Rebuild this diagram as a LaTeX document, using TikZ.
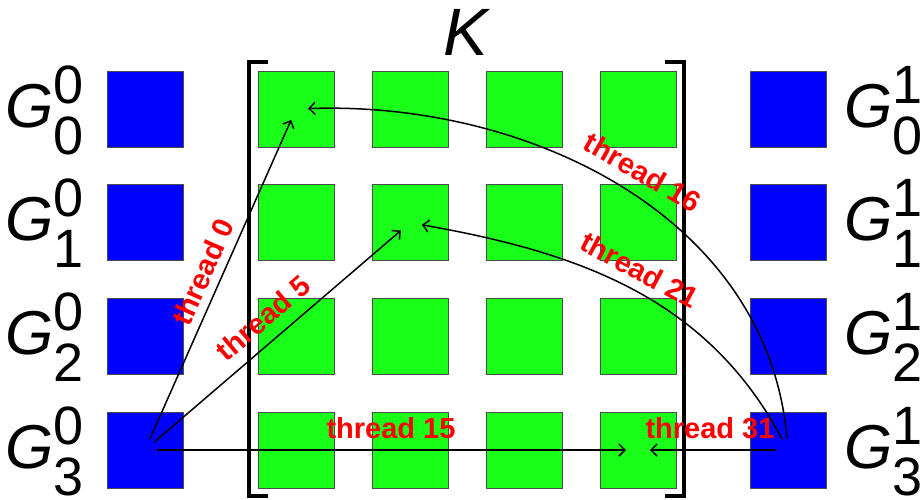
\documentclass[tikz,border=0pt]{standalone}
\usepackage{fontspec}
\setmainfont{Liberation Sans}
\usetikzlibrary{arrows.meta}

\definecolor{sqblue}{RGB}{0,0,255}
\definecolor{sqgreen}{RGB}{25,255,25}

\tikzset{
  bluebox/.style={shape=rectangle,draw=black!70,fill=sqblue,line width=0.8pt,minimum size=76pt,inner sep=0pt},
  greenbox/.style={shape=rectangle,draw=black!70,fill=sqgreen,line width=0.8pt,minimum size=76pt,inner sep=0pt},
  bracket/.style={draw=black,line width=4pt},
  thread/.style={-{Straight Barb[length=6pt,width=12pt]},draw=black,line width=1.5pt,shorten >=12pt,shorten <=12pt},
  threadlabel/.style={text=red,font=\fontsize{29}{29}\selectfont\bfseries,inner sep=0pt},
  glabel/.style={inner sep=0pt,anchor=base west}
}

% G with a superscript and a subscript stacked on its right
\newcommand{\gsym}[2]{{\fontsize{62}{62}\selectfont\itshape G}{\fontsize{54}{54}\selectfont\rlap{\raisebox{24pt}{#1}}\raisebox{-27pt}{#2}}}

\begin{document}
\begin{tikzpicture}[x=1pt,y=1pt]
\useasboundingbox (0,0) rectangle (924,-499);

\node[bluebox] (l0) at (145,-109) {};
\node[bluebox] (l1) at (145,-222.7) {};
\node[bluebox] (l2) at (145,-336.3) {};
\node[bluebox] (l3) at (145,-450) {};

\node[bluebox] (r0) at (788,-109) {};
\node[bluebox] (r1) at (788,-222.7) {};
\node[bluebox] (r2) at (788,-336.3) {};
\node[bluebox] (r3) at (788,-450) {};

\node[greenbox] (g00) at (296,-109) {};
\node[greenbox] (g01) at (410,-109) {};
\node[greenbox] (g02) at (524,-109) {};
\node[greenbox] (g03) at (638,-109) {};
\node[greenbox] (g10) at (296,-222.7) {};
\node[greenbox] (g11) at (410,-222.7) {};
\node[greenbox] (g12) at (524,-222.7) {};
\node[greenbox] (g13) at (638,-222.7) {};
\node[greenbox] (g20) at (296,-336.3) {};
\node[greenbox] (g21) at (410,-336.3) {};
\node[greenbox] (g22) at (524,-336.3) {};
\node[greenbox] (g23) at (638,-336.3) {};
\node[greenbox] (g30) at (296,-450) {};
\node[greenbox] (g31) at (410,-450) {};
\node[greenbox] (g32) at (524,-450) {};
\node[greenbox] (g33) at (638,-450) {};

% the matrix brackets
\draw[bracket] (268,-62) -- (249,-62) -- (249,-496) -- (268,-496);
\draw[bracket] (665,-62) -- (684,-62) -- (684,-496) -- (665,-496);

\node[inner sep=0pt,anchor=base] (klab) at (466,-55) {\fontsize{67}{67}\selectfont\itshape K};

\node[glabel] (gl0) at (5,-127) {\gsym{0}{0}};
\node[glabel] (gl1) at (5,-240.7) {\gsym{0}{1}};
\node[glabel] (gl2) at (5,-354.3) {\gsym{0}{2}};
\node[glabel] (gl3) at (5,-468) {\gsym{0}{3}};

\node[glabel] (gr0) at (844,-127) {\gsym{1}{0}};
\node[glabel] (gr1) at (844,-240.7) {\gsym{1}{1}};
\node[glabel] (gr2) at (844,-354.3) {\gsym{1}{2}};
\node[glabel] (gr3) at (844,-468) {\gsym{1}{3}};

\draw[thread] (l3.center) -- (g00.center);
\draw[thread] (l3.center) -- (g11.center);
\draw[thread] (l3.center) -- (g33.center);
\draw[thread] (r3.center) -- (g33.center);
\draw[thread] (r3.center) to[out=95,in=2] (g00.center);
\draw[thread] (r3.center) to[out=118,in=-10] (g11.center);

\node[threadlabel,rotate=66] (t0) at (203,-272) {thread 0};
\node[threadlabel,rotate=40.5] (t5) at (263,-318) {thread 5};
\node[threadlabel,anchor=base] (t15) at (391,-438) {thread 15};
\node[threadlabel,anchor=base] (t31) at (710,-438) {thread 31};
\node[threadlabel,rotate=-30] (t16) at (643,-172) {thread 16};
\node[threadlabel,rotate=-28] (t21) at (640,-270) {thread 21};
\end{tikzpicture}
\end{document}
